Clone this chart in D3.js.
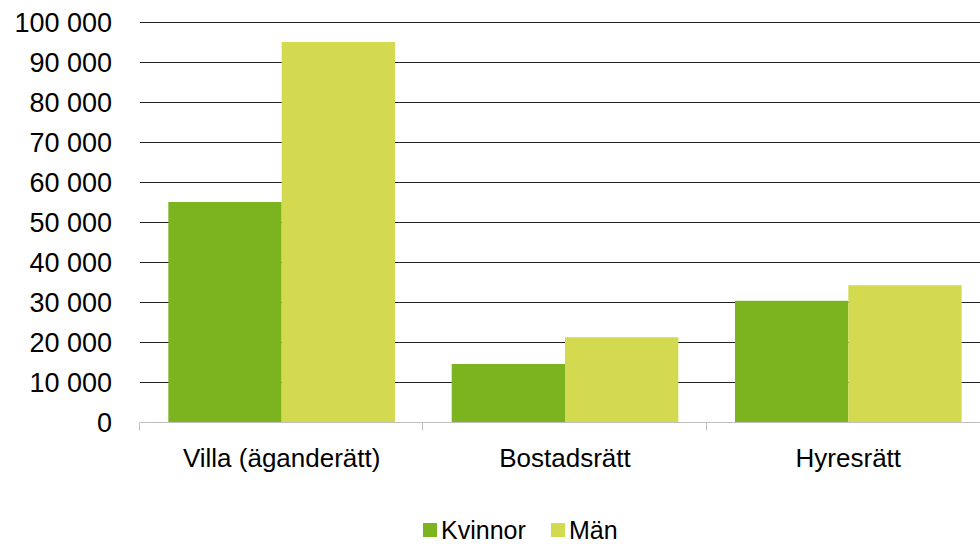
<!DOCTYPE html>
<html>
<head>
<meta charset="utf-8">
<script src="https://cdn.jsdelivr.net/npm/d3@7"></script>
<style>
  body { margin: 0; background: #fff; }
  svg text { font-family: "Liberation Sans", Arial, sans-serif; fill: #000; }
</style>
</head>
<body>
<div class="chart"></div>
<script>
// data
const categories = ["Villa (äganderätt)", "Bostadsrätt", "Hyresrätt"];
const seriesNames = ["Kvinnor", "Män"];
const kvinnor = [55000, 14500, 30300];
const man = [95000, 21200, 34200];
const yTicks = [0, 10000, 20000, 30000, 40000, 50000, 60000, 70000, 80000, 90000, 100000];

const colors = {"Kvinnor": "#7bb41f", "Män": "#d3da50"};

const width = 980, height = 544;

let svg = d3.select(".chart")
    .append("svg")
    .attr("width", width)
    .attr("height", height);

// scales
let yScale = d3.scaleLinear()
    .domain([0, 100000])
    .range([422, 22]);

let xScale = d3.scaleBand()
    .domain(categories)
    .range([140, 990])
    .padding(0);

let bw = xScale.bandwidth();
let xInner = d3.scaleBand()
    .domain(seriesNames)
    .range([bw * 0.1, bw * 0.9])
    .padding(0);

// grid lines
const fmt = d => d3.format(",")(d).replace(/,/g, " ");
svg.append("g")
    .selectAll("line")
    .data(yTicks.filter(d => d > 0))
    .enter()
    .append("line")
    .attr("x1", 140)
    .attr("x2", width)
    .attr("y1", d => Math.round(yScale(d)) + 0.5)
    .attr("y2", d => Math.round(yScale(d)) + 0.5)
    .attr("stroke", "#222")
    .attr("stroke-width", 1);

// y labels
svg.append("g")
    .selectAll("text")
    .data(yTicks)
    .enter()
    .append("text")
    .attr("x", 112)
    .attr("y", d => yScale(d) + 10)
    .attr("text-anchor", "end")
    .attr("font-size", 27)
    .text(fmt);

// bars
let rows = categories.map((c, i) => ({cat: c, vals: [
    {s: "Kvinnor", v: kvinnor[i]},
    {s: "Män", v: man[i]}
]}));

svg.append("g")
    .selectAll("g")
    .data(rows)
    .enter()
    .append("g")
    .attr("transform", d => "translate(" + xScale(d.cat) + ",0)")
    .selectAll("rect")
    .data(d => d.vals)
    .enter()
    .append("rect")
    .attr("x", d => xInner(d.s))
    .attr("width", xInner.bandwidth())
    .attr("y", d => yScale(d.v))
    .attr("height", d => yScale(0) - yScale(d.v))
    .attr("fill", d => colors[d.s]);

// x axis
let xAxis = svg.append("g")
    .attr("transform", "translate(0,422.5)");
xAxis.append("line")
    .attr("x1", 140).attr("x2", width)
    .attr("stroke", "#bfbfbf");
xAxis.selectAll(".tick")
    .data(categories)
    .enter()
    .append("line")
    .attr("x1", d => Math.round(xScale(d)) - 0.5)
    .attr("x2", d => Math.round(xScale(d)) - 0.5)
    .attr("y1", 0).attr("y2", 8)
    .attr("stroke", "#bfbfbf");
xAxis.selectAll("text")
    .data(categories)
    .enter()
    .append("text")
    .attr("x", d => xScale(d) + bw / 2)
    .attr("y", 44)
    .attr("text-anchor", "middle")
    .attr("font-size", 26)
    .text(d => d);

// legend
let legend = svg.append("g");
let legendX = [423, 551];
seriesNames.forEach((s, i) => {
    legend.append("rect")
        .attr("x", legendX[i])
        .attr("y", 523)
        .attr("width", 14)
        .attr("height", 14)
        .attr("fill", colors[s]);
    legend.append("text")
        .attr("x", legendX[i] + 18)
        .attr("y", 539)
        .attr("font-size", 25)
        .text(s);
});
</script>
</body>
</html>
